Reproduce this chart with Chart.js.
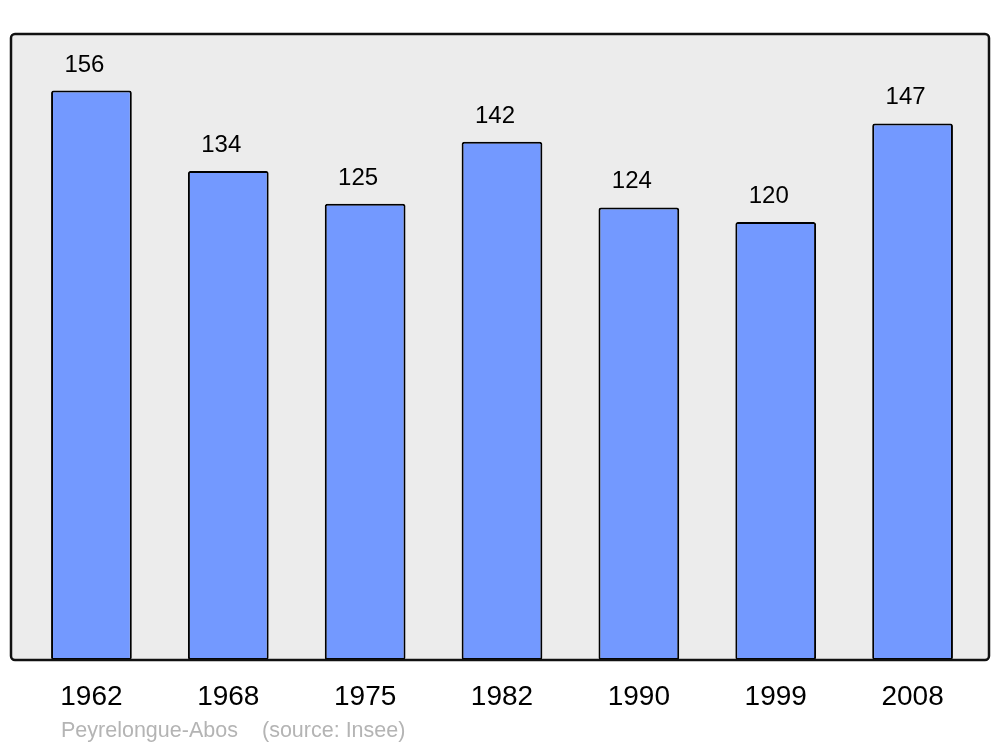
<!DOCTYPE html>
<html><head><meta charset="utf-8">
<script src="https://cdn.jsdelivr.net/npm/chart.js@4/dist/chart.umd.min.js"></script>
<style>html,body{margin:0;padding:0;background:#fff}#wrap{width:1000px;height:747px}</style>
</head><body><div id="wrap"><canvas id="c" width="1000" height="747"></canvas></div>
<script>
const years = ['1962','1968','1975','1982','1990','1999','2008'];
const population = [156,134,125,142,124,120,147];
const placeName = 'Peyrelongue-Abos';
const sourceText = '(source: Insee)';

const FONT = '"Liberation Sans", Arial, sans-serif';

const framePlugin = {
  id: 'frame',
  beforeDraw(chart) {
    const ctx = chart.ctx;
    ctx.save();
    ctx.beginPath();
    ctx.roundRect(11, 34, 978, 626, 4);
    ctx.fillStyle = '#ececec';
    ctx.fill();
    ctx.restore();
  },
  afterDraw(chart) {
    const ctx = chart.ctx;
    ctx.save();
    ctx.beginPath();
    ctx.roundRect(11, 34, 978, 626, 4);
    ctx.lineWidth = 2.5;
    ctx.strokeStyle = '#111';
    ctx.stroke();
    ctx.font = '21.5px ' + FONT;
    ctx.fillStyle = '#b4b4b4';
    ctx.textBaseline = 'alphabetic';
    ctx.textAlign = 'left';
    ctx.fillText(placeName, 61, 737);
    ctx.fillText(sourceText, 262, 737);
    ctx.restore();
  },
  afterDatasetsDraw(chart) {
    const ctx = chart.ctx;
    const meta = chart.getDatasetMeta(0);
    ctx.save();
    ctx.font = '24px ' + FONT;
    ctx.fillStyle = '#000';
    ctx.textAlign = 'center';
    ctx.textBaseline = 'alphabetic';
    meta.data.forEach((bar, i) => {
      ctx.fillText(String(population[i]), bar.x - 7, bar.y - 19);
    });
    ctx.restore();
  }
};

new Chart(document.getElementById('c'), {
  type: 'bar',
  data: {
    labels: years,
    datasets: [{
      data: population,
      backgroundColor: '#7399ff',
      borderColor: '#000',
      borderWidth: 2,
      borderRadius: 2.5,
      borderSkipped: false,
      barPercentage: 0.59,
      categoryPercentage: 1.0
    }]
  },
  options: {
    responsive: false,
    animation: false,
    layout: { padding: { left: 23, right: 19, top: 34, bottom: 0 } },
    plugins: { legend: { display: false }, tooltip: { enabled: false } },
    scales: {
      x: {
        grid: { display: false, drawTicks: false },
        border: { display: false },
        ticks: { color: '#000', font: { size: 28, family: FONT }, padding: 20 },
        afterFit(s) { s.height = 87; }
      },
      y: {
        display: false,
        min: 0, max: 171.5
      }
    }
  },
  plugins: [framePlugin]
});
</script>
</body></html>
